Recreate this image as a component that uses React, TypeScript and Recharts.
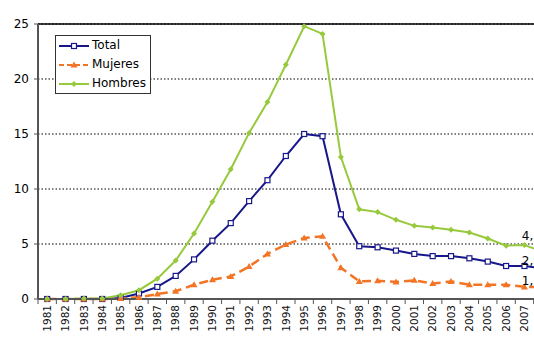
import React from 'react';
import {
  LineChart,
  Line,
  XAxis,
  YAxis,
  CartesianGrid,
  ReferenceLine,
  Legend,
  LabelList,
} from 'recharts';

// Tasa anual por sexo, 1981-2008
const YEARS = [
  '1981', '1982', '1983', '1984', '1985', '1986', '1987', '1988', '1989', '1990',
  '1991', '1992', '1993', '1994', '1995', '1996', '1997', '1998', '1999', '2000',
  '2001', '2002', '2003', '2004', '2005', '2006', '2007', '2008',
];
const TOTAL = [
  0, 0, 0, 0, 0.1, 0.5, 1.1, 2.1, 3.6, 5.3,
  6.9, 8.9, 10.8, 13.0, 15.0, 14.8, 7.7, 4.8, 4.7, 4.4,
  4.1, 3.9, 3.9, 3.7, 3.4, 3.0, 3.0, 2.8,
];
const MUJERES = [
  0, 0, 0, 0, 0.05, 0.15, 0.45, 0.7, 1.3, 1.75,
  2.05, 2.95, 4.1, 4.95, 5.55, 5.7, 2.85, 1.6, 1.65, 1.55,
  1.7, 1.4, 1.6, 1.3, 1.3, 1.3, 1.1, 1.1,
];
const HOMBRES = [
  0, 0, 0.05, 0.05, 0.35, 0.8, 1.85, 3.5, 5.95, 8.85,
  11.8, 15.1, 17.9, 21.3, 24.8, 24.1, 12.9, 8.15, 7.9, 7.2,
  6.65, 6.5, 6.3, 6.05, 5.5, 4.85, 4.9, 4.3,
];
const Y_TICKS = [0, 5, 10, 15, 20, 25];

const data = YEARS.map((year, i) => ({
  year,
  total: TOTAL[i],
  mujeres: MUJERES[i],
  hombres: HOMBRES[i],
}));

const NAVY = '#17178a';
const ORANGE = '#f27424';
const GREEN = '#97c93d';
const AXIS = '#555555';
const FONT = '"DejaVu Sans", Verdana, sans-serif';

const CHART_W = 570;
const CHART_H = 346;
const MARGIN = { top: 24, right: 18, left: 0, bottom: 0 };
const Y_AXIS_W = 38;
const PLOT_W = CHART_W - MARGIN.left - MARGIN.right - Y_AXIS_W;
const BAND = PLOT_W / YEARS.length;

// Category ticks: tick marks sit on the band boundaries, labels run vertically
const XTick = (props: any) => {
  const { x, y, payload } = props;
  const edge = x - BAND / 2;
  return (
    <g>
      <line x1={edge} x2={edge} y1={y} y2={y + 5} stroke={AXIS} strokeWidth={1} />
      <text
        transform={`translate(${x},${y + 6}) rotate(-90)`}
        textAnchor="end"
        dy="0.35em"
        fontSize={10.5}
        fontFamily={FONT}
        fill="#111"
      >
        {payload.value}
      </text>
    </g>
  );
};

const SquareDot = (props: any) => {
  const { cx, cy } = props;
  if (cx == null || cy == null) return null;
  return (
    <rect x={cx - 2.5} y={cy - 2.5} width={5} height={5} fill="#fff" stroke={NAVY} strokeWidth={1.2} />
  );
};

const TriangleDot = (props: any) => {
  const { cx, cy } = props;
  if (cx == null || cy == null) return null;
  return (
    <path d={`M${cx},${cy - 3.5} L${cx + 3.5},${cy + 2.5} L${cx - 3.5},${cy + 2.5} Z`} fill={ORANGE} />
  );
};

const DiamondDot = (props: any) => {
  const { cx, cy } = props;
  if (cx == null || cy == null) return null;
  return (
    <path d={`M${cx},${cy - 3} L${cx + 3},${cy} L${cx},${cy + 3} L${cx - 3},${cy} Z`} fill={GREEN} />
  );
};

// Value label on the final year only
const makeEndLabel = (dy: number) => (props: any) => {
  const { x, y, value, index } = props;
  if (index !== YEARS.length - 1) return null;
  return (
    <text x={x - 21} y={y + dy} fontSize={12} fontFamily={FONT} fill="#000">
      {String(value).replace('.', ',')}
    </text>
  );
};

const LegendBox = () => {
  const rows = [
    { name: 'Total', color: NAVY, dash: undefined, marker: 'square' },
    { name: 'Mujeres', color: ORANGE, dash: '5 3', marker: 'triangle' },
    { name: 'Hombres', color: GREEN, dash: undefined, marker: 'diamond' },
  ];
  return (
    <div
      style={{
        border: '1px solid #333',
        background: '#fff',
        width: 94,
        fontFamily: FONT,
        fontSize: 12,
        color: '#000',
      }}
    >
      {rows.map((r) => (
        <div key={r.name} style={{ height: 19, display: 'flex', alignItems: 'center' }}>
          <svg width={30} height={10} style={{ marginLeft: 3, marginRight: 3, display: 'block' }}>
            <line x1={0} x2={30} y1={5} y2={5} stroke={r.color} strokeWidth={2} strokeDasharray={r.dash} />
            {r.marker === 'square' && (
              <rect x={12.5} y={2.5} width={5} height={5} fill="#fff" stroke={r.color} strokeWidth={1.2} />
            )}
            {r.marker === 'triangle' && <path d="M15,1.5 L18.5,7.5 L11.5,7.5 Z" fill={r.color} />}
            {r.marker === 'diamond' && <path d="M15,2 L18,5 L15,8 L12,5 Z" fill={r.color} />}
          </svg>
          <span style={{ lineHeight: '19px', whiteSpace: 'nowrap' }}>{r.name}</span>
        </div>
      ))}
    </div>
  );
};

export default function App() {
  return (
    <div
      style={{
        position: 'absolute',
        left: 0,
        top: 0,
        width: 534,
        height: 346,
        overflow: 'hidden',
        background: '#fff',
      }}
    >
      <LineChart width={CHART_W} height={CHART_H} data={data} margin={MARGIN}>
        <CartesianGrid
          horizontal
          vertical={false}
          stroke="#000"
          strokeDasharray="1.5 2"
          strokeWidth={1.2}
        />
        <ReferenceLine y={25} stroke="#000" strokeWidth={1.5} />
        <XAxis
          dataKey="year"
          interval={0}
          height={47}
          padding={{ left: BAND / 2, right: BAND / 2 }}
          tickLine={false}
          tickSize={0}
          tickMargin={0}
          axisLine={{ stroke: AXIS, strokeWidth: 2 }}
          tick={<XTick />}
        />
        <YAxis
          width={Y_AXIS_W}
          domain={[0, 25]}
          ticks={Y_TICKS}
          interval={0}
          tickSize={4}
          tickMargin={5}
          axisLine={{ stroke: AXIS, strokeWidth: 2 }}
          tickLine={{ stroke: AXIS }}
          tick={{ fontSize: 12, fontFamily: FONT, fill: '#000' }}
        />
        <Legend
          layout="vertical"
          align="center"
          verticalAlign="middle"
          content={<LegendBox />}
          wrapperStyle={{ left: 55, top: 35, width: 96, height: 'auto' }}
        />
        <Line
          type="linear"
          dataKey="total"
          name="Total"
          stroke={NAVY}
          strokeWidth={2}
          dot={<SquareDot />}
          activeDot={false}
          isAnimationActive={false}
        >
          <LabelList dataKey="total" content={makeEndLabel(-3)} />
        </Line>
        <Line
          type="linear"
          dataKey="mujeres"
          name="Mujeres"
          stroke={ORANGE}
          strokeWidth={2.5}
          strokeDasharray="9 5"
          dot={<TriangleDot />}
          activeDot={false}
          isAnimationActive={false}
        >
          <LabelList dataKey="mujeres" content={makeEndLabel(-2)} />
        </Line>
        <Line
          type="linear"
          dataKey="hombres"
          name="Hombres"
          stroke={GREEN}
          strokeWidth={2}
          dot={<DiamondDot />}
          activeDot={false}
          isAnimationActive={false}
        >
          <LabelList dataKey="hombres" content={makeEndLabel(-12)} />
        </Line>
      </LineChart>
    </div>
  );
}
